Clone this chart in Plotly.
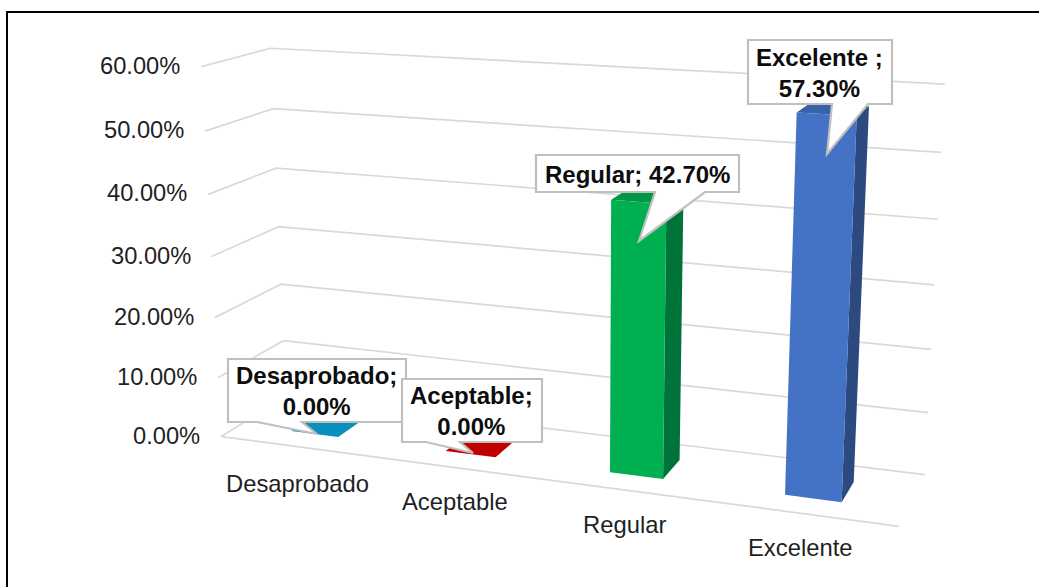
import numpy as np
import plotly.graph_objects as go

# ---- chart data ----
categories = ["Desaprobado", "Aceptable", "Regular", "Excelente"]
values = [0.0, 0.0, 42.7, 57.3]
value_labels = ["0.00%", "0.00%", "42.70%", "57.30%"]
tick_values = [0, 10, 20, 30, 40, 50, 60]
tick_labels = ["0.00%", "10.00%", "20.00%", "30.00%", "40.00%", "50.00%", "60.00%"]
front_colors = ["#0A8FBF", "#C00000", "#00B050", "#4472C4"]
side_colors = ["#066A8E", "#8F0000", "#00733A", "#2D4A80"]
top_colors = ["#0A8FBF", "#C00000", "#009746", "#3A62A8"]

# ---- 3-D view: (category position, depth, value) -> page position ----
view_pairs = [
    ((0, 0, 0), (222, 437)), ((0, 0, 30), (211, 256)), ((0, 0, 60), (201, 67)),
    ((0, 1, 0), (285, 396)), ((0, 1, 30), (279, 227)), ((0, 1, 60), (271, 48)),
    ((1, 1, 0), (925, 475)), ((1, 1, 30), (934, 285)), ((1, 1, 60), (945, 84)),
    ((1, 0, 0), (899, 526)),
]
rows = []
for (u, v, z), (px, py) in view_pairs:
    rows.append([u, v, z, 1, 0, 0, 0, 0, -px * u, -px * v, -px * z, -px])
    rows.append([0, 0, 0, 0, u, v, z, 1, -py * u, -py * v, -py * z, -py])
P = np.linalg.svd(np.array(rows, float))[2][-1].reshape(3, 4)


def project(u, v, z):
    a, b, c = P @ np.array([u, v, z, 1.0])
    return a / c, b / c


def poly(points, color, name):
    xy = [project(*p) for p in points]
    return go.Scatter(x=[q[0] for q in xy] + [xy[0][0]], y=[q[1] for q in xy] + [xy[0][1]],
                      mode="lines", fill="toself", fillcolor=color,
                      line=dict(width=0, color=color), hoverinfo="skip", showlegend=False, name=name)


fig = go.Figure()
GRID = "#D9D9D9"
for t in tick_values:
    a, b, c = project(0, 0, t), project(0, 1, t), project(1, 1, t)
    fig.add_trace(go.Scatter(x=[a[0], b[0], c[0]], y=[a[1], b[1], c[1]], mode="lines",
                             line=dict(color=GRID, width=1.7), hoverinfo="skip", showlegend=False))
a, b = project(0, 0, 0), project(1, 0, 0)
fig.add_trace(go.Scatter(x=[a[0], b[0]], y=[a[1], b[1]], mode="lines",
                         line=dict(color=GRID, width=1.7), hoverinfo="skip", showlegend=False))

n = len(categories)
bar_w = 0.31 / n
bar_shift = -0.001
v0, v1 = 0.29, 0.69
for i, (cat, val) in enumerate(zip(categories, values)):
    c = (i + 0.5) / n + bar_shift
    l, r = c - bar_w / 2, c + bar_w / 2
    fig.add_trace(poly([(l, v0, val), (r, v0, val), (r, v1, val), (l, v1, val)], top_colors[i], cat))
    fig.add_trace(poly([(r, v0, 0), (r, v1, 0), (r, v1, val), (r, v0, val)], side_colors[i], cat))
    fig.add_trace(poly([(l, v0, 0), (r, v0, 0), (r, v0, val), (l, v0, val)], front_colors[i], cat))

annotations = []
for t, lab in zip(tick_values, tick_labels):
    x, y = project(0, 0, t)
    annotations.append(dict(x=x - 19, y=y - 1, text=lab, showarrow=False, xanchor="right", yanchor="middle",
                            font=dict(family="Liberation Sans", size=23.7, color="#1F1F1F")))
cat_offset = [(1, 37), (0, 34), (0, 35), (-4, 34)]
for i, cat in enumerate(categories):
    x, y = project((i + 0.5) / n, 0, 0)
    annotations.append(dict(x=x + cat_offset[i][0], y=y + cat_offset[i][1], text=cat, showarrow=False,
                            xanchor="center", yanchor="middle",
                            font=dict(family="Liberation Sans", size=23.8, color="#1F1F1F")))

# callouts: box (x0, y0, x1, y1), tail (base start, base end, tip x, tip y)
boxes = [(228, 359, 406, 422), (402, 379, 542, 442), (536, 155, 739, 192), (748, 40, 892, 104)]
tails = [(257, 302, 317, 434), (426, 460, 473, 453), (655, 705, 639, 241), (832, 868, 827, 154)]
texts = [f"{categories[0]};<br>{value_labels[0]}", f"{categories[1]};<br>{value_labels[1]}",
         f"{categories[2]}; {value_labels[2]}", f"{categories[3]} ;<br>{value_labels[3]}"]
shapes = []
for (x0, y0, x1, y1), (b0, b1, tx, ty), txt in zip(boxes, tails, texts):
    path = f"M{x0},{y0} L{x1},{y0} L{x1},{y1} L{b1},{y1} L{tx},{ty} L{b0},{y1} L{x0},{y1} Z"
    shapes.append(dict(type="path", path=path, xref="x", yref="y", fillcolor="white",
                       line=dict(color="#BFBFBF", width=2.2), layer="above"))
    annotations.append(dict(x=(x0 + x1) / 2 - 0.5, y=(y0 + y1) / 2 + 0.5, text=txt, showarrow=False,
                            xanchor="center", yanchor="middle",
                            font=dict(family="Liberation Sans", size=24, color="#0D0D0D", weight="bold")))

# chart-area frame (top and left edges show in the crop)
shapes.append(dict(type="path", path="M7,587 L7,12 L1039,12", xref="x", yref="y",
                   line=dict(color="#000000", width=2), layer="above"))

fig.update_layout(width=1039, height=587, margin=dict(l=0, r=0, t=0, b=0), paper_bgcolor="white",
                  plot_bgcolor="white", showlegend=False, shapes=shapes, annotations=annotations,
                  xaxis=dict(range=[0, 1039], visible=False, fixedrange=True),
                  yaxis=dict(range=[587, 0], visible=False, fixedrange=True))
fig.write_html("out.html", post_script="document.body.style.margin='0';", config=dict(displayModeBar=False))
